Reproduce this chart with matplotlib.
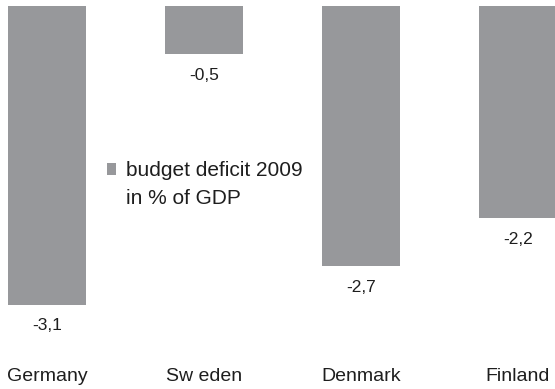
import matplotlib
matplotlib.use('Agg')
import matplotlib.pyplot as plt
from matplotlib.patches import Patch
import numpy as np

# budget balance 2009, % of GDP
countries = ['Germany', 'Sw eden', 'Denmark', 'Finland']
deficit = [-3.1, -0.5, -2.7, -2.2]
value_labels = ['-3,1', '-0,5', '-2,7', '-2,2']
legend_lines = ['budget deficit 2009', 'in % of GDP']

plt.rcParams['font.family'] = ['Liberation Sans', 'DejaVu Sans']

bar_color = '#97989b'
text_color = '#1e1e1e'

fig = plt.figure(figsize=(5.55, 3.89), dpi=100)
ax = fig.add_axes([0, 0, 1, 1])

x = np.arange(len(countries))
bars = ax.bar(x, deficit, width=0.5, color=bar_color)

# value labels under each bar
for xi, v, txt in zip(x, deficit, value_labels):
    ax.annotate(txt, (xi, v), xytext=(0, -15), textcoords='offset points',
                ha='center', va='center', fontsize=12.5, color=text_color)

# country names along the bottom
for xi, name in zip(x, countries):
    ax.text(xi, -3.84, name, ha='center', va='center', fontsize=14,
            color=text_color)

ax.set_xlim(-0.3, 3.236)
ax.set_ylim(-3.97, 0.062)
ax.axis('off')

# two-line legend: square only beside the first line
handles = [bars, Patch(visible=False)]
leg = ax.legend(handles, legend_lines, loc='upper left',
                bbox_to_anchor=(0.193, 0.585), frameon=False, fontsize=15,
                handlelength=0.45, handleheight=0.45, handletextpad=0.45,
                labelspacing=0.39, borderpad=0, borderaxespad=0)
for t in leg.get_texts():
    t.set_color(text_color)

fig.savefig('out.png', dpi=100)
